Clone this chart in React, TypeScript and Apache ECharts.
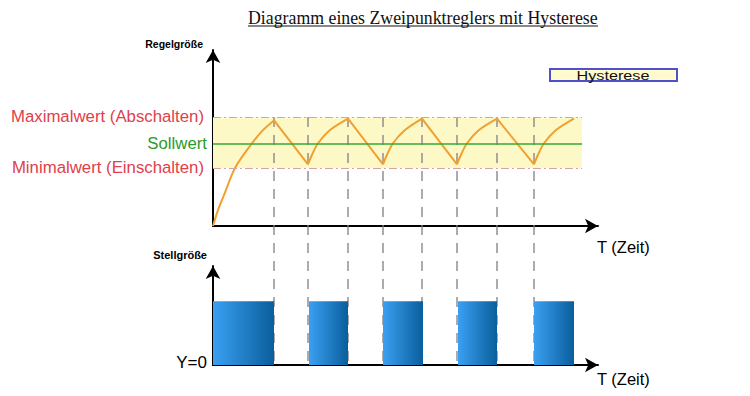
import React, { useEffect, useRef } from "react";
import * as echarts from "echarts";

// ---- data (time units along the shared T axis, values in % of axis height) ----
const T_MAX = 385;
const TOP_Y_MAX = 100;
const MIN_VAL = 33; // Minimalwert (Einschalten)
const SOLL_VAL = 47; // Sollwert
const MAX_VAL = 62; // Maximalwert (Abschalten)
const BAND_END = 369;

const riseSegments: number[][][] = [
  [[0, 0], [5, 9], [12, 19], [22, 33], [39, 47], [50, 54.5], [61, 60]],
  [[95, 35], [99, 40.5], [105, 47], [117, 54.5], [135, 61]],
  [[170, 35], [174, 40.5], [180, 47], [192, 54.5], [209, 61]],
  [[244, 35], [248, 40.5], [254, 47], [266, 54.5], [284, 61]],
  [[321, 35], [325, 40.5], [331, 47], [343, 54.5], [361, 61]],
];
const fallSegments: number[][][] = [
  [[61, 60], [95, 35]],
  [[135, 61], [170, 35]],
  [[209, 61], [244, 35]],
  [[284, 61], [321, 35]],
];
const switchTimes = [61, 95, 135, 170, 209, 244, 284, 321];

const STELL_ON = 1;
const BOTTOM_Y_MAX = 1.55;
const barSpans: number[][] = [
  [0, 61],
  [96, 135],
  [170, 210],
  [245, 284],
  [321, 361],
];

const labelNames: Record<number, string> = {
  [MAX_VAL]: "{r|Maximalwert (Abschalten)}",
  [SOLL_VAL]: "{g|Sollwert}",
  [MIN_VAL]: "{r|Minimalwert (Einschalten)}",
};

const SANS = "Liberation Sans, Arial, sans-serif";

export default function App() {
  const ref = useRef<HTMLDivElement>(null);
  useEffect(() => {
    const chart = echarts.init(ref.current!, null, { renderer: "svg" });
    const axisLine = {
      show: true,
      symbol: ["none", "arrow"],
      symbolSize: [11, 13],
      lineStyle: { color: "#000", width: 2 },
    };
    const hidden = {
      axisTick: { show: false },
      splitLine: { show: false },
    };
    const curveStyle = { color: "#f0a030", width: 2 };

    const option: any = {
      animation: false,
      backgroundColor: "#fff",
      title: {
        text: "Diagramm eines Zweipunktreglers mit Hysterese",
        left: 243,
        top: 4,
        textStyle: {
          fontFamily: "Liberation Serif, serif",
          fontSize: 17.8,
          fontWeight: "normal",
          color: "#111",
        },
      },
      grid: [
        { left: 213, top: 50, width: 385, height: 176 },
        { left: 213, top: 266, width: 385, height: 99 },
      ],
      xAxis: [
        {
          gridIndex: 0,
          type: "value",
          min: 0,
          max: T_MAX,
          axisLine,
          ...hidden,
          axisLabel: { show: false },
          name: "T (Zeit)",
          nameLocation: "end",
          nameGap: -1,
          nameTextStyle: {
            fontFamily: SANS,
            fontSize: 16.5,
            color: "#000",
            align: "left",
            verticalAlign: "top",
            padding: [12, 0, 0, 0],
          },
        },
        {
          gridIndex: 1,
          type: "value",
          min: 0,
          max: T_MAX,
          axisLine,
          ...hidden,
          axisLabel: { show: false },
          name: "T (Zeit)",
          nameLocation: "end",
          nameGap: -1,
          nameTextStyle: {
            fontFamily: SANS,
            fontSize: 16.5,
            color: "#000",
            align: "left",
            verticalAlign: "top",
            padding: [5, 0, 0, 0],
          },
        },
      ],
      yAxis: [
        {
          gridIndex: 0,
          type: "value",
          min: 0,
          max: TOP_Y_MAX,
          axisLine,
          ...hidden,
          name: "Regelgröße",
          nameLocation: "end",
          nameGap: 6,
          nameTextStyle: {
            fontFamily: SANS,
            fontSize: 10.5,
            fontWeight: "bold",
            color: "#000",
            align: "right",
            verticalAlign: "middle",
            padding: [0, 10, 0, 0],
          },
          axisLabel: {
            show: true,
            customValues: [MIN_VAL, SOLL_VAL, MAX_VAL],
            margin: 9,
            formatter: (v: number) => labelNames[v] || "",
            rich: {
              r: { color: "#e0404a", fontSize: 16.8, fontFamily: SANS },
              g: { color: "#2a9a2a", fontSize: 16.8, fontFamily: SANS, padding: [0, -3, 0, 0] },
            },
          },
        },
        {
          gridIndex: 1,
          type: "value",
          min: 0,
          max: BOTTOM_Y_MAX,
          axisLine,
          ...hidden,
          name: "Stellgröße",
          nameLocation: "end",
          nameGap: 11,
          nameTextStyle: {
            fontFamily: SANS,
            fontSize: 11,
            fontWeight: "bold",
            color: "#000",
            align: "right",
            verticalAlign: "middle",
            padding: [0, 6, 0, 0],
          },
          axisLabel: {
            show: true,
            customValues: [0],
            margin: 6,
            formatter: () => "Y=0",
            fontFamily: SANS,
            fontSize: 17,
            color: "#000",
            verticalAlign: "bottom",
            padding: [0, 0, -6, 0],
          },
        },
      ],
      series: [
        {
          type: "line",
          xAxisIndex: 0,
          yAxisIndex: 0,
          z: 1,
          data: [[0, SOLL_VAL]],
          showSymbol: false,
          symbol: "none",
          lineStyle: { width: 0 },
          markArea: {
            silent: true,
            itemStyle: { color: "#fdf9c6" },
            data: [[{ coord: [0, MIN_VAL] }, { coord: [BAND_END, MAX_VAL] }]],
          },
          markLine: {
            silent: true,
            symbol: ["none", "none"],
            label: { show: false },
            data: [
              [
                { coord: [0, MAX_VAL], lineStyle: { color: "#d9a3a3", width: 1, type: [8, 3, 2, 3] } },
                { coord: [BAND_END, MAX_VAL] },
              ],
              [
                { coord: [0, MIN_VAL], lineStyle: { color: "#d9a3a3", width: 1, type: [8, 3, 2, 3] } },
                { coord: [BAND_END, MIN_VAL] },
              ],
              [
                { coord: [0, SOLL_VAL], lineStyle: { color: "#33aa33", width: 1.5, type: "solid" } },
                { coord: [BAND_END, SOLL_VAL] },
              ],
            ],
          },
        },
        ...riseSegments.map((seg) => ({
          type: "line",
          xAxisIndex: 0,
          yAxisIndex: 0,
          z: 3,
          data: seg,
          smooth: 0.3,
          showSymbol: false,
          symbol: "none",
          lineStyle: curveStyle,
        })),
        ...fallSegments.map((seg) => ({
          type: "line",
          xAxisIndex: 0,
          yAxisIndex: 0,
          z: 3,
          data: seg,
          showSymbol: false,
          symbol: "none",
          lineStyle: curveStyle,
        })),
        {
          type: "custom",
          xAxisIndex: 1,
          yAxisIndex: 1,
          z: 3,
          data: barSpans.map(([s, e]) => [s, e, STELL_ON]),
          encode: { x: [0, 1], y: 2 },
          renderItem: (params: any, api: any) => {
            const p0 = api.coord([api.value(0), api.value(2)]);
            const p1 = api.coord([api.value(1), 0]);
            return {
              type: "rect",
              shape: { x: p0[0], y: p0[1], width: p1[0] - p0[0], height: p1[1] - p0[1] },
              style: {
                fill: new echarts.graphic.LinearGradient(0, 0, 1, 0, [
                  { offset: 0, color: "#3aa0f2" },
                  { offset: 1, color: "#0a5e9c" },
                ]),
              },
            };
          },
        },
      ],
    };
    chart.setOption(option);

    const dashLines = switchTimes.map((t) => {
      const a = chart.convertToPixel({ gridIndex: 0 } as any, [t, MAX_VAL]) as number[];
      const b = chart.convertToPixel({ gridIndex: 1 } as any, [t, 0]) as number[];
      return {
        type: "line",
        z: 1,
        silent: true,
        shape: { x1: a[0], y1: a[1], x2: b[0], y2: b[1] },
        style: { stroke: "#857c88", lineWidth: 1.3, lineDash: [10, 8] },
      };
    });

    chart.setOption({
      graphic: [
        ...dashLines,
        {
          type: "line",
          silent: true,
          shape: { x1: 248, y1: 26, x2: 598, y2: 26 },
          style: { stroke: "#111", lineWidth: 1 },
        },
        {
          type: "rect",
          silent: true,
          shape: { x: 550, y: 69, width: 127, height: 12 },
          style: { fill: "#fffbcc", stroke: "#5050cc", lineWidth: 2 },
        },
        {
          type: "text",
          silent: true,
          x: 613,
          y: 75,
          scaleX: 1.2,
          style: {
            text: "Hysterese",
            fontFamily: SANS,
            fontSize: 13.5,
            fill: "#111",
            align: "center",
            verticalAlign: "middle",
          },
        },
      ],
    });

    return () => chart.dispose();
  }, []);
  return (
    <div
      ref={ref}
      style={{ position: "fixed", left: 0, top: 0, width: 750, height: 396, background: "#fff" }}
    />
  );
}
